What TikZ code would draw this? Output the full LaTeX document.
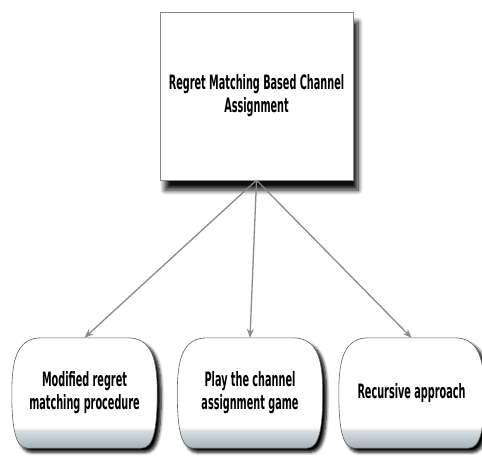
\documentclass[tikz,border=0pt]{standalone}
\usepackage{fontspec}
\setmainfont{DejaVu Sans}[FakeStretch=0.49]
\usepackage{tikz}
\usetikzlibrary{arrows.meta,positioning,calc,shadows.blur,backgrounds}

\definecolor{edgegray}{HTML}{8A8A8A}
\definecolor{rimgray}{HTML}{5E5E5E}
\definecolor{shadedark}{HTML}{A4B1BA}
\definecolor{shadelight}{HTML}{D6DEE3}

% white body with a grey-blue band at the foot
\pgfdeclareverticalshading{leafshade}{100bp}{%
  color(0bp)=(shadedark); color(25bp)=(shadedark);
  color(33bp)=(shadelight); color(34.5bp)=(white); color(100bp)=(white)}

% barrel-like outline around a node
\newcommand{\leafoutline}[1]{%
  \path[leafdraw] ($(#1.north west)+(30,0)$) -- ($(#1.north east)+(-30,0)$)
    .. controls ($(#1.north east)+(-5,0)$) and ($(#1.north east)+(0,22)$) .. (#1.east)
    .. controls ($(#1.south east)+(0,-18)$) and ($(#1.south east)+(-4,0)$) .. ($(#1.south east)+(-16,0)$)
    -- ($(#1.south west)+(16,0)$)
    .. controls ($(#1.south west)+(4,0)$) and ($(#1.south west)+(0,-18)$) .. (#1.west)
    .. controls ($(#1.north west)+(0,22)$) and ($(#1.north west)+(5,0)$) .. cycle;}

\begin{document}
\begin{tikzpicture}[
    x=1pt, y=-1pt,
    font=\fontsize{19.8}{23}\selectfont\bfseries,
    topbox/.style={rectangle, draw=edgegray, fill=white, minimum width=193pt, minimum height=168pt, align=center,
      blur shadow={shadow xshift=5pt, shadow yshift=-10pt, shadow blur steps=10, shadow blur radius=5pt, shadow opacity=95}},
    leafbox/.style={rectangle, minimum width=145pt, minimum height=110pt, inner sep=0pt, align=center},
    leafdraw/.style={draw=rimgray, line width=0.6pt, shading=leafshade,
      blur shadow={shadow xshift=4pt, shadow yshift=-4pt, shadow blur steps=6, shadow blur radius=3pt, shadow opacity=100}},
    arrow/.style={-{Stealth[length=9pt, width=7pt]}, draw=edgegray, line width=1.3pt}
]
    \useasboundingbox (0,0) rectangle (482,456);

    % Top node
    \node[topbox] (top) at (256.5,96) {\raisebox{17pt}{\begin{tabular}{@{}c@{}}Regret Matching Based Channel\\Assignment\end{tabular}}};

    % Leaf nodes
    \node[leafbox] (modified) at (84.5,393) {Modified regret\\matching procedure};
    \node[leafbox] (play) at (250,393) {Play the channel\\assignment game};
    \node[leafbox] (recursive) at (411.5,393) {Recursive approach};

    % Leaf outlines
    \begin{scope}[on background layer]
        \leafoutline{modified}
        \leafoutline{play}
        \leafoutline{recursive}
    \end{scope}

    % Arrows
    \draw[arrow] (top.south) -- (modified.north);
    \draw[arrow] (top.south) -- (play.north);
    \draw[arrow] (top.south) -- (recursive.north);
\end{tikzpicture}
\end{document}
